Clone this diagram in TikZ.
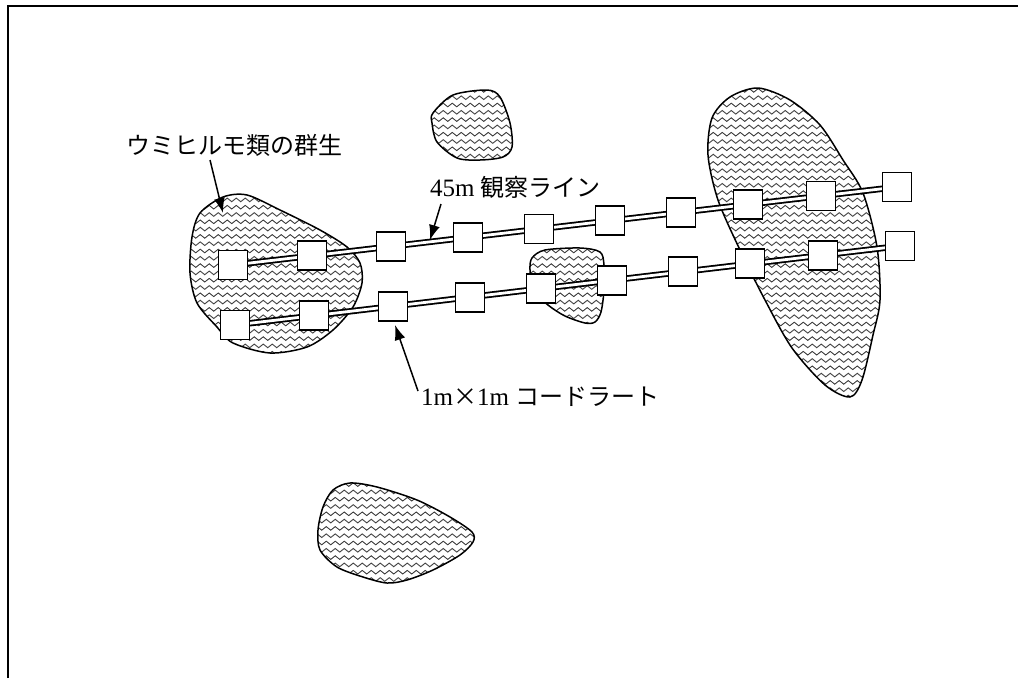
\documentclass[tikz,border=0pt]{standalone}
\usepackage{fontspec}
\setmainfont{Liberation Serif}
\newfontfamily\jp{Noto Sans CJK JP}
\usetikzlibrary{patterns,arrows.meta,backgrounds}
\pgfdeclarepatternformonly{waves}{\pgfqpoint{-1pt}{-1pt}}{\pgfqpoint{10pt}{8.3pt}}{\pgfqpoint{9pt}{7.3pt}}{%
  \pgfsetlinewidth{0.9pt}%
  \pgfpathmoveto{\pgfqpoint{0pt}{3.6pt}}%
  \pgfpathcurveto{\pgfqpoint{1.5pt}{6pt}}{\pgfqpoint{3pt}{6pt}}{\pgfqpoint{4.5pt}{3.6pt}}%
  \pgfpathcurveto{\pgfqpoint{6pt}{1.2pt}}{\pgfqpoint{7.5pt}{1.2pt}}{\pgfqpoint{9pt}{3.6pt}}%
  \pgfusepath{stroke}}
\tikzset{
  blob/.style={draw=black, line width=1.5pt, pattern=waves, pattern color=black!75},
  quad/.style={draw=black, fill=white, line width=1.8pt, minimum size=29pt, inner sep=0pt},
  rail/.style={draw=black, line width=1.8pt, double=white, double distance=2.8pt},
  pointer/.style={draw=black, line width=1.5pt, -{Latex[length=15pt,width=11pt]}},
  lbl/.style={anchor=west, inner sep=0pt, font=\fontsize{25}{29}\selectfont},
  jpf/.style={font=\fontsize{24}{28}\selectfont\jp},
}
\newcommand\jpt[1]{{\fontsize{24}{28}\selectfont\jp #1}}
\begin{document}
\begin{tikzpicture}[x=1pt,y=-1pt]
\useasboundingbox (0,0) rectangle (1018,678);
\draw[line width=2pt] (8,678) -- (8,6) -- (1018,6);
% squares
\foreach \n/\x/\y in {1/233/265,2/312/255.7,3/391/246.4,4/468/237.4,5/539/229.0,6/610/220.7,7/681/212.4,8/748/204.5,9/821/195.9,10/897/187.0}
  \node[quad] (u\n) at (\x,\y) {};
\foreach \n/\x/\y in {1/235/325,2/314/315.6,3/393/306.2,4/470/297.1,5/541/288.6,6/612/280.2,7/683/271.8,8/750/263.8,9/823/255.1,10/900/246.0}
  \node[quad] (l\n) at (\x,\y) {};
\begin{pgfonlayer}{background}
% blobs
\draw[blob] plot[smooth cycle] coordinates {(200,213) (223,197) (247,195) (280,210) (320,230) (347,247) (360,263) (362,283) (353,307) (333,330) (307,347) (270,353) (233,343) (217,327) (197,303) (190,273) (192,237)};
\draw[blob] plot[smooth cycle] coordinates {(433,113) (453,95) (487,90) (500,97) (510,123) (512,147) (503,157) (480,160) (457,158) (437,142) (432,123)};
\draw[blob] plot[smooth cycle] coordinates {(532,258) (545,250) (580,248) (600,252) (604,265) (604,290) (601,312) (595,322) (585,323) (565,316) (548,305) (533,290) (530,270)};
\draw[blob] plot[smooth cycle] coordinates {(712,118) (730,97) (758,88) (790,100) (820,125) (843,160) (863,193) (877,247) (880,300) (873,335) (862,380) (850,397) (825,385) (792,348) (765,300) (740,250) (718,200) (708,155)};
\draw[blob] plot[smooth cycle] coordinates {(333,490) (350,483) (377,487) (417,500) (450,517) (472,532) (473,542) (460,555) (433,570) (407,580) (387,583) (363,577) (337,567) (320,550) (318,530) (323,507)};
% rails
\draw[rail] (u1.center) -- (u10.center);
\draw[rail] (l1.center) -- (l10.center);
\end{pgfonlayer}
% labels
\node[lbl, jpf] (t1) at (126,145) {ウミヒルモ類の群生};
\node[lbl] (t2) at (430,187) {45m \jpt{観察ライン}};
\node[lbl] (t3) at (421,397) {1m\jpt{×}1m \jpt{コードラート}};
% arrows
\coordinate (a1s) at (210,160);
\coordinate (a1e) at (223,213);
\coordinate (a2s) at (441,204);
\coordinate (a2e) at (430,240);
\coordinate (a3s) at (418,391);
\coordinate (a3e) at (395,325);
\draw[pointer] (a1s) -- (a1e);
\draw[pointer] (a2s) -- (a2e);
\draw[pointer] (a3s) -- (a3e);
\end{tikzpicture}
\end{document}
